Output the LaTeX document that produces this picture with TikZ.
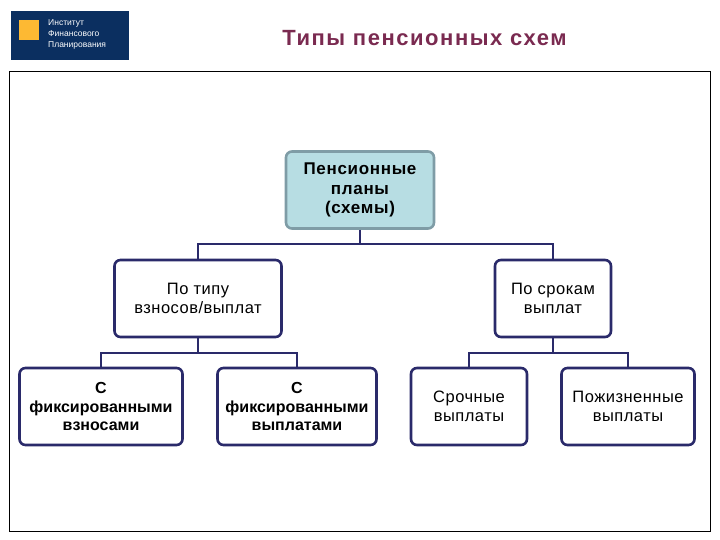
\documentclass[tikz,border=0pt]{standalone}
\usepackage{fontspec}
\setmainfont{Liberation Sans}
\newfontfamily\boxfont[LetterSpace=3]{Liberation Sans}
\newfontfamily\rootfont[LetterSpace=4]{Liberation Sans}
\newfontfamily\titlefont[LetterSpace=7]{Liberation Sans}
\definecolor{linecol}{HTML}{2A2A6A}
\definecolor{rootfill}{HTML}{B7DDE3}
\definecolor{rootline}{HTML}{7F9CA6}
\definecolor{logocol}{HTML}{0B2F60}
\definecolor{logosq}{HTML}{FDB933}
\definecolor{titlecol}{HTML}{7A2A50}
\begin{document}
\begin{tikzpicture}[x=1pt, y=-1pt,
    boxstyle/.style={draw=linecol, line width=2.6pt, rounded corners=6pt, fill=white, align=center,
        inner sep=0pt, minimum height=77pt, font=\boxfont\fontsize{16.5}{18.5}\selectfont},
    rootstyle/.style={boxstyle, draw=rootline, fill=rootfill, font=\rootfont\fontsize{17}{19.5}\selectfont\bfseries},
    boldbox/.style={boxstyle, font=\fontsize{16}{18.5}\selectfont\bfseries},
    linkstyle/.style={draw=linecol, line width=2pt},
    logotext/.style={text=white, anchor=west, inner sep=0pt, font=\fontsize{8.5}{9}\selectfont}]
    \useasboundingbox (0,0) rectangle (720,540);
    % Logo and title
    \node[fill=logocol, minimum width=118pt, minimum height=49pt, inner sep=0pt] (logo) at (70,35.5) {};
    \node[fill=logosq, minimum width=20pt, minimum height=20pt, inner sep=0pt] (logosq) at (29,30) {};
    \node[logotext] (logo1) at (48,23) {Институт};
    \node[logotext] (logo2) at (48,34) {Финансового};
    \node[logotext] (logo3) at (48,45) {Планирования};
    \node[text=titlecol, font=\titlefont\fontsize{22}{24}\selectfont\bfseries] (title) at (424.5,38) {Типы пенсионных схем};
    % Frame
    \node[draw, line width=1pt, minimum width=701pt, minimum height=459pt, inner sep=0pt] (frame) at (359.5,301.5) {};
    % Boxes
    \node[rootstyle, minimum width=148pt] (root) at (360,190) {Пенсионные\\планы\\(схемы)};
    \node[boxstyle, minimum width=167pt] (type) at (198,298.5) {По типу\\взносов/выплат};
    \node[boxstyle, minimum width=116pt] (term) at (553,298.5) {По срокам\\выплат};
    \node[boldbox, minimum width=163pt] (fixin) at (101,406.5) {С\\фиксированными\\взносами};
    \node[boldbox, minimum width=159pt] (fixout) at (297,406.5) {С\\фиксированными\\выплатами};
    \node[boxstyle, minimum width=116pt] (urgent) at (469,406.5) {Срочные\\выплаты};
    \node[boxstyle, minimum width=133pt] (life) at (628,406.5) {Пожизненные\\выплаты};
    % Connections
    \coordinate (rootjoin) at (360,244);
    \coordinate (typejoin) at (198,353);
    \coordinate (termjoin) at (553,353);
    \draw[linkstyle] (root.south) -- (rootjoin);
    \draw[linkstyle] (type.north) |- (rootjoin) -| (term.north);
    \draw[linkstyle] (type.south) -- (typejoin);
    \draw[linkstyle] (fixin.north) |- (typejoin) -| (fixout.north);
    \draw[linkstyle] (term.south) -- (termjoin);
    \draw[linkstyle] (urgent.north) |- (termjoin) -| (life.north);
\end{tikzpicture}
\end{document}
